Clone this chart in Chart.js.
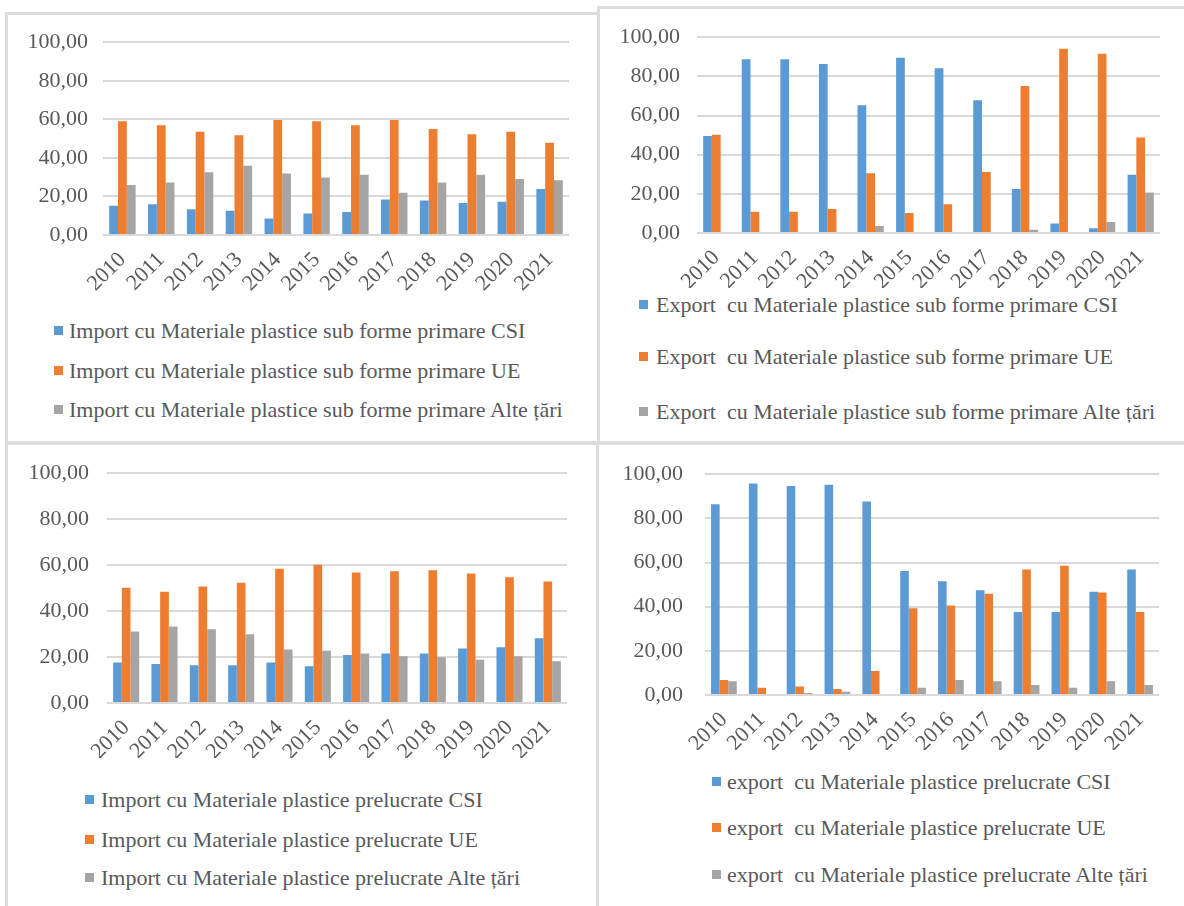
<!DOCTYPE html>
<html>
<head>
<meta charset="utf-8">
<script src="https://cdn.jsdelivr.net/npm/chart.js@4.4.1/dist/chart.umd.min.js"></script>
<style>
  html, body { margin: 0; padding: 0; background: #fff; }
  body { width: 1184px; height: 906px; position: relative; overflow: hidden; }
  .panel { position: absolute; border: 3px solid #dcdcdc; box-sizing: border-box; }
  canvas { position: absolute; }
  .lg { position: absolute; font-family: "Liberation Serif", "Times New Roman", serif; font-size: 22px;
        color: #595959; white-space: pre; line-height: 24px; height: 24px; }
  .lg i { position: absolute; left: 0; top: 7px; width: 9px; height: 9px; }
  .lg span { position: absolute; top: 0; }
</style>
</head>
<body>
<div class="panel" style="left:5px;top:12px;width:595px;height:433px"></div>
<div class="panel" style="left:597px;top:6px;width:600px;height:439px"></div>
<div class="panel" style="left:5px;top:441px;width:594px;height:480px"></div>
<div class="panel" style="left:596px;top:441px;width:600px;height:480px"></div>

<canvas id="c1" width="568" height="281" style="left:13px;top:14px"></canvas>
<canvas id="c2" width="565" height="281" style="left:607px;top:7px"></canvas>
<canvas id="c3" width="562" height="316" style="left:17px;top:442px"></canvas>
<canvas id="c4" width="556" height="311" style="left:615px;top:439px"></canvas>

<script>
  const years = ['2010', '2011', '2012', '2013', '2014', '2015', '2016', '2017', '2018', '2019', '2020', '2021'];
  const yMax = 100;
  const yStep = 20;

  // Import, materiale plastice sub forme primare
  const impPrimCSI = [15.2, 16.0, 13.3, 12.6, 8.6, 11.2, 11.9, 18.4, 17.9, 16.6, 17.2, 23.8];
  const impPrimUE = [59.0, 56.9, 53.6, 51.7, 59.7, 59.0, 56.9, 59.7, 55.0, 52.2, 53.6, 47.8];
  const impPrimAlte = [25.9, 27.2, 32.6, 35.9, 31.9, 29.8, 31.2, 21.9, 27.2, 31.2, 29.1, 28.4];

  // Export, materiale plastice sub forme primare
  const expPrimCSI = [49.5, 88.8, 88.8, 86.3, 65.3, 89.5, 84.2, 67.8, 22.5, 4.9, 2.4, 29.8];
  const expPrimUE = [50.2, 10.8, 10.8, 12.2, 30.5, 10.2, 14.7, 31.2, 75.1, 94.1, 91.5, 48.8];
  const expPrimAlte = [0, 0, 0, 0, 3.6, 0, 0, 0, 1.7, 0, 5.6, 20.7];

  // Import, materiale plastice prelucrate
  const impPrelCSI = [17.6, 17.0, 16.4, 16.4, 17.6, 16.0, 20.9, 21.5, 21.5, 23.7, 24.3, 28.2];
  const impPrelUE = [50.1, 48.4, 50.7, 52.3, 58.4, 60.2, 56.8, 57.3, 57.8, 56.3, 54.7, 52.9];
  const impPrelAlte = [31.1, 33.3, 32.1, 29.9, 23.3, 22.7, 21.5, 20.3, 19.9, 18.8, 20.3, 18.2];

  // Export, materiale plastice prelucrate
  const expPrelCSI = [86.4, 95.8, 94.6, 95.2, 87.6, 56.2, 51.5, 47.4, 37.6, 37.6, 46.8, 56.8];
  const expPrelUE = [6.8, 3.3, 3.9, 2.7, 10.9, 39.3, 40.5, 45.8, 56.8, 58.5, 46.4, 37.6];
  const expPrelAlte = [6.2, 0, 0.9, 1.5, 0, 3.3, 6.8, 6.2, 4.5, 3.3, 6.2, 4.5];

  const labels1 = ['Import cu Materiale plastice sub forme primare CSI', 'Import cu Materiale plastice sub forme primare UE', 'Import cu Materiale plastice sub forme primare Alte țări'];
  const labels2 = ['Export  cu Materiale plastice sub forme primare CSI', 'Export  cu Materiale plastice sub forme primare UE', 'Export  cu Materiale plastice sub forme primare Alte țări'];
  const labels3 = ['Import cu Materiale plastice prelucrate CSI', 'Import cu Materiale plastice prelucrate UE', 'Import cu Materiale plastice prelucrate Alte țări'];
  const labels4 = ['export  cu Materiale plastice prelucrate CSI', 'export  cu Materiale plastice prelucrate UE', 'export  cu Materiale plastice prelucrate Alte țări'];

  const colors = ['#5b9bd5', '#ed7d31', '#a5a5a5'];
  const textColor = '#595959';
  const fontFamily = '"Liberation Serif", "Times New Roman", serif';

  function makeChart(id, series, names, opts) {
    const ctx = document.getElementById(id).getContext('2d');
    return new Chart(ctx, {
      type: 'bar',
      data: {
        labels: years,
        datasets: series.map((s, i) => ({
          label: names[i],
          data: s,
          backgroundColor: colors[i],
          borderWidth: 0,
          categoryPercentage: 0.68,
          barPercentage: 1.0
        }))
      },
      options: {
        responsive: false,
        animation: false,
        layout: { padding: { top: 0, right: 12, left: 0, bottom: 0 } },
        plugins: { legend: { display: false }, tooltip: { enabled: false } },
        scales: {
          x: {
            grid: { display: false },
            border: { display: false },
            ticks: {
              color: textColor,
              font: { family: fontFamily, size: 22 },
              maxRotation: 45,
              minRotation: 45,
              padding: 4,
              autoSkip: false
            },
            afterFit: s => { s.height = opts.xH; }
          },
          y: {
            min: 0,
            max: yMax,
            border: { display: false },
            grid: { color: '#d9d9d9', lineWidth: 2, drawTicks: false },
            ticks: {
              stepSize: yStep,
              color: textColor,
              padding: opts.tickPad,
              font: { family: fontFamily, size: 22 },
              callback: v => v.toFixed(2).replace('.', ',')
            },
            afterFit: s => { s.width = 90; }
          }
        }
      }
    });
  }

  function makeLegend(chart, sqX, txtX, ys) {
    chart.data.datasets.forEach((ds, i) => {
      const row = document.createElement('div');
      row.className = 'lg';
      row.style.left = sqX + 'px';
      row.style.top = (ys[i] - 12) + 'px';
      const sq = document.createElement('i');
      sq.style.background = ds.backgroundColor;
      const txt = document.createElement('span');
      txt.style.left = (txtX - sqX) + 'px';
      txt.textContent = ds.label;
      row.appendChild(sq);
      row.appendChild(txt);
      document.body.appendChild(row);
    });
  }

  const ch1 = makeChart('c1', [impPrimCSI, impPrimUE, impPrimAlte], labels1, { xH: 60, tickPad: 15 });
  const ch2 = makeChart('c2', [expPrimCSI, expPrimUE, expPrimAlte], labels2, { xH: 55, tickPad: 17 });
  const ch3 = makeChart('c3', [impPrelCSI, impPrelUE, impPrelAlte], labels3, { xH: 55, tickPad: 18 });
  const ch4 = makeChart('c4', [expPrelCSI, expPrelUE, expPrelAlte], labels4, { xH: 55, tickPad: 22 });

  makeLegend(ch1, 54, 69, [331, 371, 410]);
  makeLegend(ch2, 639, 656, [305, 357, 412]);
  makeLegend(ch3, 85, 101, [800, 840, 878]);
  makeLegend(ch4, 712, 727, [782, 828, 875]);
</script>
</body>
</html>
